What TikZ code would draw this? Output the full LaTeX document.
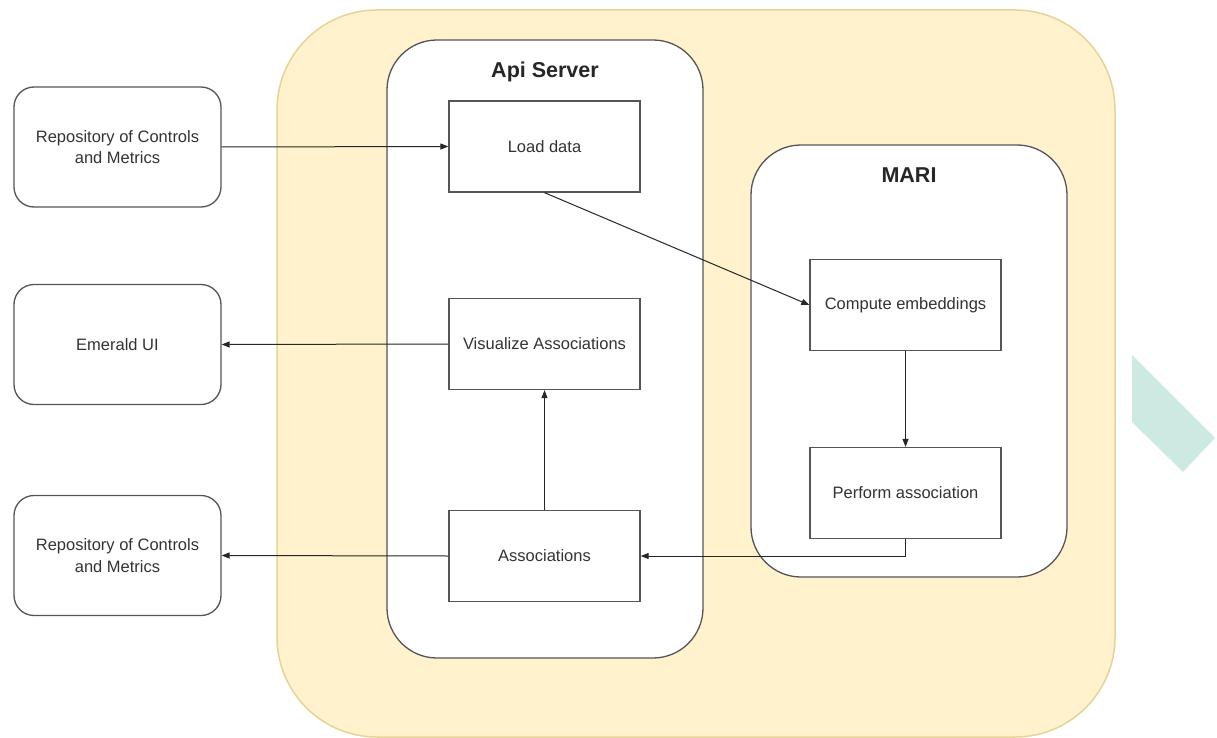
\documentclass[tikz,border=0pt]{standalone}
\usepackage{fontspec}
\setmainfont{Liberation Sans}
\usetikzlibrary{arrows.meta}
\definecolor{yfill}{HTML}{FFF2CC}
\definecolor{ydraw}{HTML}{E6D497}
\definecolor{lgray}{HTML}{555555}
\definecolor{teal}{HTML}{CDEAE2}
\definecolor{txt}{HTML}{333333}
\tikzset{
  box/.style={draw=lgray, line width=1.3pt, fill=white, minimum width=191pt, minimum height=91pt, inner sep=0pt, align=center, text=txt, font=\fontsize{16.5}{21.5}\selectfont},
  rbox/.style={box, rounded corners=20pt, minimum width=207pt, minimum height=120pt},
  arr/.style={draw=black!85, line width=1pt, -{Triangle[length=8pt,width=6pt]}},
  titletext/.style={font=\bfseries\fontsize{21.5}{24}\selectfont, text=black!85}
}
\begin{document}
\begin{tikzpicture}[x=1pt,y=-1pt]
\useasboundingbox (0,0) rectangle (1217,738);
% outer yellow container
\draw[fill=yfill, draw=ydraw, line width=1.5pt, rounded corners=100pt] (277,10) rectangle (1115,737);
% containers
\draw[fill=white, draw=lgray, line width=1.3pt, rounded corners=50pt] (387,40) rectangle (703,658);
\draw[fill=white, draw=lgray, line width=1.3pt, rounded corners=50pt] (751,145) rectangle (1067,577);
\node[titletext] (apit) at (545,72) {Api Server};
\node[titletext] (marit) at (909,175) {MARI};
% teal shape
\fill[teal] (1132,355) -- (1215,438) -- (1183,472) -- (1132,422) -- cycle;
% left boxes
\node[rbox] (repo1) at (117.5,147) {Repository of Controls\\and Metrics};
\node[rbox] (emerald) at (117.5,344.5) {Emerald UI};
\node[rbox] (repo2) at (117.5,555.5) {Repository of Controls\\and Metrics};
% inner boxes
\node[box] (load) at (544.5,146.5) {Load data};
\node[box] (vis) at (544.5,344) {Visualize Associations};
\node[box] (assoc) at (544.5,556) {Associations};
\node[box] (comp) at (905.5,305) {Compute embeddings};
\node[box] (perf) at (905.5,493) {Perform association};
% connectors
\draw[arr] (repo1.east) -- (load.west);
\draw[arr] (load.south) -- (comp.west);
\draw[arr] (vis.west) -- (emerald.east);
\draw[arr] (assoc.north) -- (vis.south);
\draw[arr] (assoc.west) -- (repo2.east);
\draw[arr] (comp.south) -- (perf.north);
\draw[arr] (perf.south) |- (assoc.east);
\end{tikzpicture}
\end{document}
